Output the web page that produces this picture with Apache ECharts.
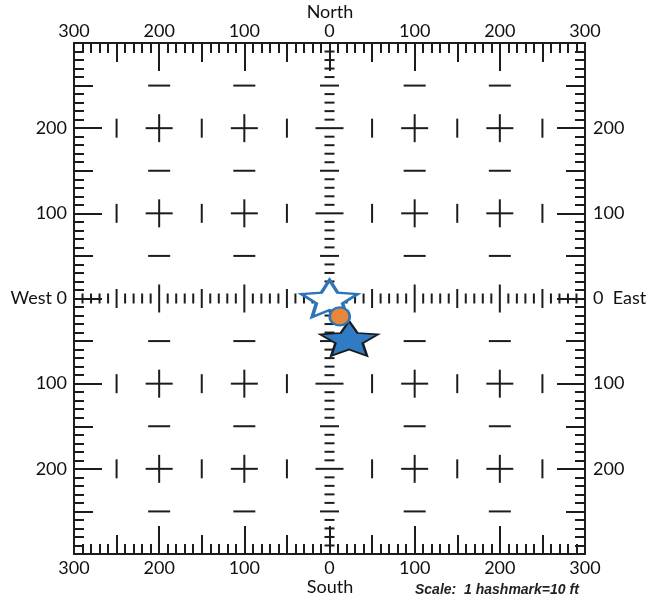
<!DOCTYPE html>
<html><head><meta charset="utf-8">
<script src="https://cdn.jsdelivr.net/npm/echarts@6/dist/echarts.min.js"></script>
<style>html,body{margin:0;padding:0;background:#fff}#c{width:653px;height:602px}</style>
</head><body><div id="c"></div>
<script>
// ---- data ----
const axisMin = -300, axisMax = 300;
const whiteStar = [[0, 0]];
const orangeDot = [[12, -21]];
const blueStar = [[23, -47]];
// interior grid marks (ft)
const crossXs = [-200, -100, 100, 200];
const crossYs = [-200, -100, 100, 200];
const barXs = [-250, -150, -50, 50, 150, 250];
const dashYs = [-250, -150, -50, 50, 150, 250];
const hashStep = 10; // 1 hashmark = 10 ft

// ---- build mark table: [x, y, kind] ----
// kind: 0 cross, 1 vertical bar, 2 horizontal dash, 3 center-row tick, 4 center-column tick
const marks = [];
crossYs.forEach(y => crossXs.forEach(x => marks.push([x, y, 0])));
crossYs.forEach(y => barXs.forEach(x => marks.push([x, y, 1])));
dashYs.forEach(y => crossXs.forEach(x => marks.push([x, y, 2])));
for (let v = axisMin + hashStep; v < axisMax; v += hashStep) {
  marks.push([v, 0, 3]);
  marks.push([0, v, 4]);
}

function tickLen(v) {
  if (v % 100 === 0) return 28;
  if (v % 50 === 0) return 19;
  return 10;
}
const INK = '#1c1c1c';
function renderItem(params, api) {
  const x = api.value(0), y = api.value(1), kind = api.value(2);
  const p = api.coord([x, y]);
  let h = 0, v = 0;
  if (kind === 0) { h = 27; v = 28; }
  else if (kind === 1) { v = 19; }
  else if (kind === 2) { h = 22; }
  else if (kind === 3) { v = tickLen(x); }
  else if (kind === 4) { h = tickLen(y); }
  const children = [];
  const st = { stroke: INK, lineWidth: 2 };
  if (h) children.push({ type: 'line', shape: { x1: p[0] - h / 2, y1: p[1], x2: p[0] + h / 2, y2: p[1] }, style: st });
  if (v) children.push({ type: 'line', shape: { x1: p[0], y1: p[1] - v / 2, x2: p[0], y2: p[1] + v / 2 }, style: st });
  return { type: 'group', children };
}

function starPath(inner) {
  const pts = [];
  for (let i = 0; i < 10; i++) {
    const r = i % 2 === 0 ? 1 : inner;
    const a = (-90 + i * 36) * Math.PI / 180;
    pts.push((r * Math.cos(a)).toFixed(4) + ',' + (r * Math.sin(a)).toFixed(4));
  }
  return 'path://M' + pts.join('L') + 'Z';
}
const STAR = starPath(0.47);

const labelFont = { fontFamily: 'Lato', fontSize: 18, color: '#111' };
const absFmt = v => String(Math.abs(v));

function edgeAxes(position, labelFmt, showEnds, margin) {
  const base = {
    type: 'value', position, min: axisMin, max: axisMax, gridIndex: 0,
    splitLine: { show: false }
  };
  const major = Object.assign({}, base, {
    interval: 100,
    axisLine: { show: true, onZero: false, lineStyle: { color: INK, width: 2 } },
    axisTick: { show: true, inside: true, length: 28, lineStyle: { color: INK, width: 2 } },
    minorTick: { show: true, splitNumber: 10, length: 10, lineStyle: { color: INK, width: 2 } },
    axisLabel: Object.assign({ show: true, margin, formatter: labelFmt, showMinLabel: showEnds, showMaxLabel: showEnds, hideOverlap: false }, labelFont)
  });
  const mid = Object.assign({}, base, {
    interval: 50,
    axisLine: { show: false, onZero: false },
    axisTick: { show: true, inside: true, length: 19, lineStyle: { color: INK, width: 2 } },
    axisLabel: { show: false }
  });
  return [major, mid];
}

const xAxes = [].concat(
  edgeAxes('top', absFmt, true, 3),
  edgeAxes('bottom', absFmt, true, 5)
);
const yAxes = [].concat(
  edgeAxes('left', v => v === 0 ? 'West 0' : absFmt(v), false, 7),
  edgeAxes('right', v => v === 0 ? '0  East' : absFmt(v), false, 8)
);

const chart = echarts.init(document.getElementById('c'));
chart.setOption({
  animation: false,
  backgroundColor: '#fff',
  grid: { left: 74, top: 43, width: 511, height: 511, containLabel: false, outerBoundsMode: 'none' },
  xAxis: xAxes,
  yAxis: yAxes,
  graphic: [
    { type: 'text', style: { text: 'North', x: 330, y: 12, textAlign: 'center', textVerticalAlign: 'middle', font: '18px Lato', fill: '#111' } },
    { type: 'text', style: { text: 'South', x: 330, y: 587, textAlign: 'center', textVerticalAlign: 'middle', font: '18px Lato', fill: '#111' } },
    { type: 'text', style: { text: 'Scale:  1 hashmark=10 ft', x: 415, y: 590, textAlign: 'left', textVerticalAlign: 'middle', font: 'italic bold 14px "Liberation Sans"', fill: '#222' } }
  ],
  series: [
    { type: 'custom', xAxisIndex: 0, yAxisIndex: 0, renderItem, data: marks, silent: true, z: 2 },
    { type: 'scatter', xAxisIndex: 0, yAxisIndex: 0, data: whiteStar, symbol: STAR, symbolSize: [56, 37], z: 3,
      itemStyle: { color: '#ffffff', borderColor: '#2E75B6', borderWidth: 3, opacity: 1 } },
    { type: 'scatter', xAxisIndex: 0, yAxisIndex: 0, data: blueStar, symbol: STAR, symbolSize: [58, 35], z: 4,
      itemStyle: { color: '#2F7BC4', borderColor: '#1a1a1a', borderWidth: 2, opacity: 1 } },
    { type: 'scatter', xAxisIndex: 0, yAxisIndex: 0, data: orangeDot, symbol: 'circle', symbolSize: [20, 18], z: 5,
      itemStyle: { color: '#E8873A', borderColor: '#2E75B6', borderWidth: 2.5, opacity: 1 } }
  ]
});
</script></body></html>
